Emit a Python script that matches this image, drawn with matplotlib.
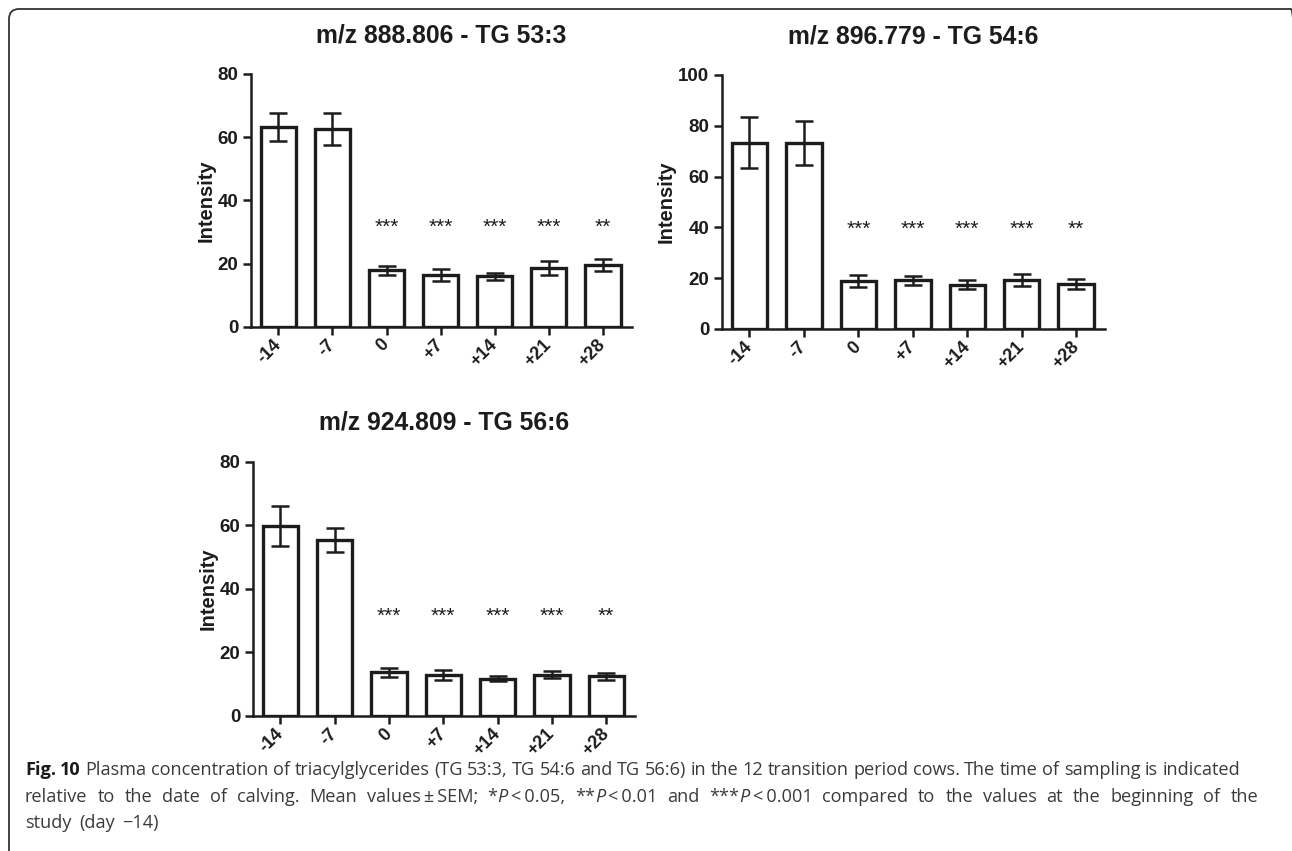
import numpy as np
import matplotlib
matplotlib.use("Agg")
import matplotlib.pyplot as plt
from matplotlib.patches import FancyBboxPatch
from matplotlib.transforms import IdentityTransform, blended_transform_factory

# ---------------- data ----------------
days = ["-14", "-7", "0", "+7", "+14", "+21", "+28"]

titles = ["m/z 888.806 - TG 53:3", "m/z 896.779 - TG 54:6", "m/z 924.809 - TG 56:6"]

tg533_mean = [63.2, 62.5, 17.8, 16.4, 15.9, 18.6, 19.5]
tg533_sem = [4.3, 5.0, 1.4, 1.8, 1.1, 2.2, 1.8]

tg546_mean = [73.3, 73.3, 19.0, 19.1, 17.5, 19.3, 17.6]
tg546_sem = [10.0, 8.7, 2.4, 1.9, 1.9, 2.4, 2.0]

tg566_mean = [59.8, 55.4, 13.7, 13.0, 11.75, 13.0, 12.45]
tg566_sem = [6.2, 3.7, 1.5, 1.6, 0.85, 1.2, 1.15]

signif = ["", "", "***", "***", "***", "***", "**"]

y_max = [80, 100, 80]
y_ticks = [[0, 20, 40, 60, 80], [0, 20, 40, 60, 80, 100], [0, 20, 40, 60, 80]]

# ---------------- figure ----------------
W, H = 1292, 851
fig = plt.figure(figsize=(W / 100, H / 100), dpi=100)
fig.patch.set_facecolor("white")
plt.rcParams["font.family"] = ["Liberation Sans", "DejaVu Sans"]

ink = "#1c1c1c"

# axes rectangles in pixels: (left, right, top, bottom)
rects = [(250.7, 631.7, 74.0, 326.7),
         (721.7, 1105.0, 75.0, 329.0),
         (252.7, 635.0, 461.7, 716.0)]

series = [(tg533_mean, tg533_sem), (tg546_mean, tg546_sem), (tg566_mean, tg566_sem)]

for i, ((l, r, t, b), (mean, sem)) in enumerate(zip(rects, series)):
    ax = fig.add_axes([l / W, 1 - b / H, (r - l) / W, (b - t) / H])
    x = np.arange(len(days))
    ax.bar(x, mean, width=0.65, color="white", edgecolor=ink, linewidth=2.4, zorder=2)
    ax.errorbar(x, mean, yerr=sem, fmt="none", ecolor=ink, elinewidth=1.8,
                capsize=6.8, capthick=1.8, zorder=3)
    ax.set_xlim(-0.51, 6.53)
    ax.set_ylim(0, y_max[i])
    ax.set_yticks(y_ticks[i])
    ax.set_xticks(x)
    ax.set_xticklabels(days, rotation=45, ha="right", va="center",
                       rotation_mode="anchor", fontsize=13, fontweight="bold")
    for lab in ax.get_yticklabels():
        lab.set_fontweight("bold")
    ax.tick_params(axis="both", direction="out", length=6, width=1.8, color=ink,
                   labelcolor=ink, pad=3)
    ax.tick_params(axis="y", labelsize=13.5)
    ax.tick_params(axis="x", pad=5)
    for s in ["top", "right"]:
        ax.spines[s].set_visible(False)
    for s in ["left", "bottom"]:
        ax.spines[s].set_linewidth(1.8)
        ax.spines[s].set_color(ink)
    ax.set_ylabel("Intensity", fontsize=14.5, fontweight="bold", color=ink, labelpad=1.5)
    ax.set_title(titles[i], fontsize=17.8, fontweight="bold", color=ink, pad=23)
    tr = blended_transform_factory(ax.transData, ax.transAxes)
    for xi, s in zip(x, signif):
        if s:
            ax.text(xi, 0.37, s, transform=tr, ha="center", va="baseline",
                    fontsize=15, color=ink)

# ---------------- frame ----------------
frame = FancyBboxPatch((9, -40), 1292, 882, boxstyle="round,pad=0,rounding_size=10",
                       transform=IdentityTransform(), facecolor="none",
                       edgecolor="#333333", linewidth=1.3, clip_on=False)
fig.patches.append(frame)

# ---------------- caption ----------------
cap_color = "#3a3a3a"
cap_fam = ["Open Sans", "DejaVu Sans"]
N, B, I = ("normal", "normal"), ("bold", "normal"), ("normal", "italic")

line1 = [[("Fig.", B)], [("10", B)]] + [[(w, N)] for w in
         "Plasma concentration of triacylglycerides (TG 53:3, TG 54:6 and TG 56:6) in the 12 transition period cows. The time of sampling is indicated".split()]
line2 = [[(w, N)] for w in "relative to the date of calving. Mean".split()] + \
        [[("values\u2009\u00b1\u2009SEM;", N)],
         [("*", N), ("P", I), ("\u2009<\u20090.05,", N)],
         [("**", N), ("P", I), ("\u2009<\u20090.01", N)], [("and", N)],
         [("***", N), ("P", I), ("\u2009<\u20090.001", N)]] + \
        [[(w, N)] for w in "compared to the values at the beginning of the".split()]
line3 = [[(w, N)] for w in "study (day \u221214)".split()]

renderer = fig.canvas.get_renderer()


def text_w(s, fs, wt="normal", st="normal"):
    t = fig.text(0, 0, s, fontsize=fs, fontweight=wt, fontstyle=st, family=cap_fam)
    w = t.get_window_extent(renderer).width
    t.remove()
    return w


def natural_width(tokens, fs):
    total = 0
    for tok in tokens:
        for txt, (wt, st) in tok:
            total += text_w(txt, fs, wt, st)
    sp = text_w("a a", fs) - text_w("aa", fs)
    return total + sp * (len(tokens) - 1)


base = 12.0
cap_fs = base * (1240 - 25) / natural_width(line1, base)


def draw_line(tokens, x0, baseline, justify_to=None, gap_scale=1.0):
    y = H - baseline
    objs = []
    widths = []
    for tok in tokens:
        segs = []
        tw = 0
        for txt, (wt, st) in tok:
            col = "#1a1a1a" if wt == "bold" else cap_color
            t = fig.text(0, y, txt, transform=IdentityTransform(), ha="left", va="baseline",
                         fontsize=cap_fs, fontweight=wt, fontstyle=st, color=col,
                         family=cap_fam)
            w = t.get_window_extent(renderer).width
            segs.append((t, w))
            tw += w
        objs.append(segs)
        widths.append(tw)
    sp = text_w("a a", cap_fs) - text_w("aa", cap_fs)
    if justify_to is not None:
        gap = (justify_to - x0 - sum(widths)) / (len(tokens) - 1)
    else:
        gap = sp * gap_scale
    xx = x0
    for segs, tw in zip(objs, widths):
        cx = xx
        for t, w in segs:
            t.set_position((cx, y))
            cx += w
        xx += tw + gap


draw_line(line1, 25, 775, justify_to=1240)
draw_line(line2, 25, 802, justify_to=1258)
draw_line(line3, 25, 828, gap_scale=1.6)

fig.savefig("out.png", dpi=100, facecolor="white")
